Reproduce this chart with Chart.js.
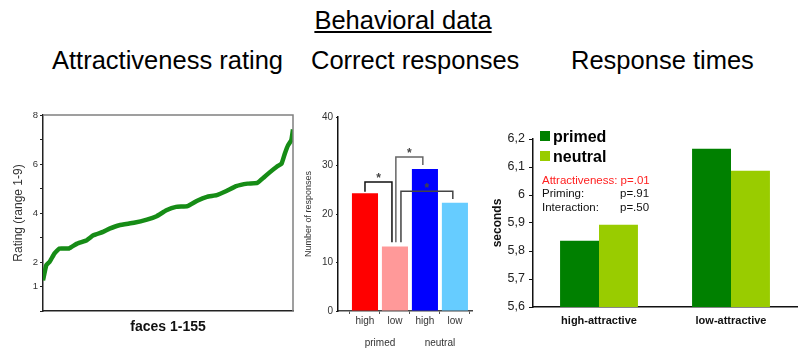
<!DOCTYPE html>
<html>
<head>
<meta charset="utf-8">
<script src="https://cdn.jsdelivr.net/npm/chart.js@4"></script>
<style>
  body { margin: 0; background: #fff; font-family: "Liberation Sans", Arial, sans-serif; }
  #page { position: relative; width: 806px; height: 354px; overflow: hidden; }
  .abs { position: absolute; white-space: nowrap; }
  .titel { font-size: 25.5px; line-height: 28px; color: #000; }
  canvas { position: absolute; }
  .sq { position: absolute; width: 10px; height: 10px; }
  .leg { font-size: 16px; font-weight: bold; line-height: 18px; }
  .stat { font-size: 11.5px; line-height: 14px; color: #111; }
</style>
</head>
<body>
<div id="page">
  <div class="abs titel" style="left:0; width:806px; text-align:center; top:6px;"><u>Behavioral data</u></div>
  <div class="abs titel" style="left:52px; top:46px;">Attractiveness rating</div>
  <div class="abs titel" style="left:311px; top:46px;">Correct responses</div>
  <div class="abs titel" style="left:571px; top:46px;">Response times</div>

  <canvas id="graficoRating" style="left:0; top:105px;" width="300" height="249"></canvas>
  <canvas id="graficoRespostas" style="left:295px; top:105px;" width="185" height="249"></canvas>
  <canvas id="graficoTempos" style="left:490px; top:110px;" width="316" height="244"></canvas>

  <!-- legenda e estatisticas do grafico de tempos -->
  <div class="sq" style="left:540px; top:131px; background:#008000;"></div>
  <div class="abs leg" style="left:553px; top:128px;">primed</div>
  <div class="sq" style="left:540px; top:151px; background:#99cc00;"></div>
  <div class="abs leg" style="left:553px; top:148px;">neutral</div>
  <div class="abs stat" style="left:542px; top:173px; color:#ff2020;">Attractiveness: p=.01</div>
  <div class="abs stat" style="left:542px; top:186px;">Priming:</div>
  <div class="abs stat" style="left:620px; top:186px;">p=.91</div>
  <div class="abs stat" style="left:542px; top:200px;">Interaction:</div>
  <div class="abs stat" style="left:620px; top:200px;">p=.50</div>
</div>

<script>
// ---- dados

// avaliacao de atratividade (faces ordenadas)
const faceNo = [1, 3, 5, 8, 11, 17, 22, 28, 32, 38, 42, 48, 57, 65, 71, 77, 83, 90, 96, 102, 108, 114, 120, 127, 133, 137, 141, 145, 148, 150, 152, 154, 155];
const rating = [1.25, 1.87, 2.0, 2.34, 2.55, 2.55, 2.75, 2.89, 3.09, 3.23, 3.36, 3.5, 3.6, 3.73, 3.87, 4.11, 4.25, 4.28, 4.5, 4.66, 4.73, 4.9, 5.1, 5.2, 5.23, 5.45, 5.68, 5.89, 6.02, 6.43, 6.77, 6.98, 7.41];
const ratingTickLabels = ['', '1', '2', '', '4', '', '6', '', '8'];

// respostas corretas
const respLabels = ['high', 'low', 'high', 'low'];
const respGroups = ['primed', 'neutral'];
const respValues = [24.3, 13.3, 29.3, 22.3];
// colchetes de significancia: [x esquerda, y esquerda, x direita, y direita, topo]
const brackets = [
    [1.0, 24.6, 1.9, 14.2, 26.6],
    [2.03, 14.2, 2.93, 30.1, 31.75],
    [2.2, 14.2, 3.93, 23.1, 24.7]
];

// tempos de resposta
const rtCategories = ['high-attractive', 'low-attractive'];
const rtPrimed = [5.837, 6.165];
const rtNeutral = [5.894, 6.087];

const fonte = '"Liberation Sans", Arial, sans-serif';
Chart.defaults.font.family = fonte;
Chart.defaults.color = '#222';


// ---- grafico 1: rating

const molduraPlugin = {
    id: 'moldura',
    afterDraw(chart) {
        const a = chart.chartArea;
        const ctx = chart.ctx;
        ctx.save();
        ctx.strokeStyle = '#808080';
        ctx.lineWidth = 1.5;
        ctx.beginPath();
        ctx.moveTo(a.left, a.top);
        ctx.lineTo(a.right, a.top);
        ctx.lineTo(a.right, a.bottom);
        ctx.stroke();
        ctx.restore();
    }
};

new Chart(document.getElementById('graficoRating').getContext('2d'), {
    type: 'line',
    data: {
        datasets: [{
            data: faceNo.map((f, i) => ({ x: f, y: rating[i] })),
            borderColor: '#168c16',
            borderWidth: 4.5,
            pointRadius: 0,
            tension: 0.1
        }]
    },
    options: {
        responsive: false,
        animation: false,
        layout: { padding: { top: 10, right: 7, left: 0, bottom: 0 } },
        plugins: { legend: { display: false }, tooltip: { enabled: false } },
        scales: {
            x: {
                type: 'linear', min: 1, max: 155,
                ticks: { display: false },
                grid: { display: false },
                border: { color: '#222', width: 1.5 },
                title: { display: true, text: 'faces 1-155', font: { size: 14, weight: 'bold' }, color: '#111', padding: { top: 0, bottom: 18 } },
                afterFit: s => { s.height = 43; }
            },
            y: {
                min: 0, max: 8,
                ticks: {
                    stepSize: 1, autoSkip: false, padding: 2,
                    font: { size: 9.5 }, color: '#333',
                    callback: (v) => ratingTickLabels[v]
                },
                grid: { drawOnChartArea: false, tickLength: 3, color: '#222' },
                border: { color: '#222', width: 1.5 },
                title: { display: true, text: 'Rating (range 1-9)', font: { size: 12 }, color: '#333', padding: { top: 11, bottom: 0 } },
                afterFit: s => { s.width = 43; }
            }
        }
    },
    plugins: [molduraPlugin]
});


// ---- grafico 2: respostas corretas

const colchetesPlugin = {
    id: 'colchetes',
    afterDatasetsDraw(chart) {
        const x = chart.scales.x, y = chart.scales.y, ctx = chart.ctx;
        const cores = ['#111', '#666', '#444'];
        ctx.save();
        ctx.lineWidth = 1.5;
        brackets.forEach((b, i) => {
            ctx.strokeStyle = cores[i];
            ctx.beginPath();
            ctx.moveTo(x.getPixelForValue(b[0]), y.getPixelForValue(b[1]));
            ctx.lineTo(x.getPixelForValue(b[0]), y.getPixelForValue(b[4]));
            ctx.lineTo(x.getPixelForValue(b[2]), y.getPixelForValue(b[4]));
            ctx.lineTo(x.getPixelForValue(b[2]), y.getPixelForValue(b[3]));
            ctx.stroke();
            ctx.fillStyle = '#444';
            ctx.font = 'bold 12px ' + fonte;
            ctx.textAlign = 'center';
            ctx.textBaseline = 'middle';
            ctx.fillText('*', x.getPixelForValue((b[0] + b[2]) / 2), y.getPixelForValue(b[4]) - 3);
        });
        // grupos abaixo dos rotulos
        ctx.fillStyle = '#333';
        ctx.font = '10px ' + fonte;
        ctx.fillText(respGroups[0], x.getPixelForValue(1.5), 343 - 105);
        ctx.fillText(respGroups[1], x.getPixelForValue(3.5), 343 - 105);
        ctx.restore();
    }
};

new Chart(document.getElementById('graficoRespostas').getContext('2d'), {
    type: 'bar',
    data: {
        datasets: [{
            data: respValues.map((v, i) => ({ x: i + 1, y: v })),
            backgroundColor: ['#ff0000', '#ff9999', '#0000ff', '#66ccff'],
            barPercentage: 0.87,
            categoryPercentage: 1
        }]
    },
    options: {
        responsive: false,
        animation: false,
        layout: { padding: { top: 12, right: 8, left: 0, bottom: 0 } },
        plugins: { legend: { display: false }, tooltip: { enabled: false } },
        scales: {
            x: {
                type: 'linear', min: 0.1, max: 4.57, offset: false,
                afterBuildTicks: s => { s.ticks = [1, 2, 3, 4].map(v => ({ value: v })); },
                ticks: { font: { size: 10 }, color: '#333', padding: 1, callback: (v, i) => respLabels[i] },
                grid: { drawOnChartArea: false, tickLength: 3, color: '#555' },
                border: { color: '#444', width: 1.5 },
                afterFit: s => { s.height = 43; }
            },
            y: {
                min: 0, max: 40,
                ticks: { stepSize: 10, font: { size: 10 }, color: '#333', padding: 3 },
                grid: { drawOnChartArea: false, tickLength: 2, color: '#222' },
                border: { color: '#111', width: 1.5 },
                title: { display: true, text: 'Number of responses', font: { size: 9 }, color: '#333', padding: { top: 8, bottom: 0 } },
                afterFit: s => { s.width = 43; }
            }
        }
    },
    plugins: [colchetesPlugin]
});


// ---- grafico 3: tempos de resposta

new Chart(document.getElementById('graficoTempos').getContext('2d'), {
    type: 'bar',
    data: {
        labels: rtCategories,
        datasets: [
            { label: 'primed', data: rtPrimed, backgroundColor: '#008000', barPercentage: 1, categoryPercentage: 0.59 },
            { label: 'neutral', data: rtNeutral, backgroundColor: '#99cc00', barPercentage: 1, categoryPercentage: 0.59 }
        ]
    },
    options: {
        responsive: false,
        animation: false,
        layout: { padding: { top: 29, right: 9, left: 0, bottom: 0 } },
        plugins: { legend: { display: false }, tooltip: { enabled: false } },
        scales: {
            x: {
                ticks: { font: { size: 11, weight: 'bold' }, color: '#111', padding: 7 },
                grid: { display: false, drawTicks: false },
                border: { color: '#111', width: 1.5 },
                afterFit: s => { s.height = 47; }
            },
            y: {
                min: 5.6, max: 6.2,
                ticks: {
                    stepSize: 0.1, font: { size: 12.5 }, color: '#222', padding: 4,
                    callback: (v) => {
                        let s = v.toFixed(1);
                        if (s.endsWith('.0')) s = s.slice(0, -2);
                        return s.replace('.', ',');
                    }
                },
                grid: { drawOnChartArea: false, tickLength: 4, color: '#111' },
                border: { color: '#111', width: 1.5 },
                title: { display: true, text: 'seconds', font: { size: 12, weight: 'bold' }, color: '#111', padding: { top: 0, bottom: 0 } },
                afterFit: s => { s.width = 43; }
            }
        }
    }
});
</script>
</body>
</html>
